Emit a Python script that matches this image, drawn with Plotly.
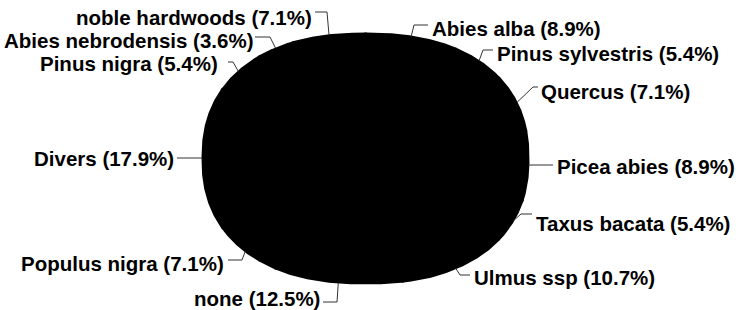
import numpy as np
import plotly.graph_objects as go

# ---- data ----
labels = ["Abies alba", "Pinus sylvestris", "Quercus", "Picea abies", "Taxus bacata",
          "Ulmus ssp", "none", "Populus nigra", "Divers", "Pinus nigra",
          "Abies nebrodensis", "noble hardwoods"]
percents = [8.9, 5.4, 7.1, 8.9, 5.4, 10.7, 12.5, 7.1, 17.9, 5.4, 3.6, 7.1]

# ---- layout / style (page pixels) ----
W, H = 736, 310
CX, CY, RX, RY, NEXP = 365.5, 158.5, 163.0, 125.0, 2.3

# per label: side, elbow point, line end x, text anchor x, text centre y
label_layout = [
    ("right", (414, 25), 428, 430, 28),
    ("right", (483, 50), 493, 495, 53),
    ("right", (533, 87), 538, 539, 91),
    ("right", (531, 165), 553, 555, 166),
    ("right", (521, 214), 532, 534, 223),
    ("right", (460, 275), 470, 472, 277),
    ("left", (337, 302), 323, 322, 298),
    ("left", (242, 260), 228, 226, 263),
    ("left", (201, 158), 177, 176, 158),
    ("left", (233, 62), 228, 220, 63),
    ("left", (270, 37), 255, 255, 40),
    ("left", (327, 12), 315, 314, 17),
]


def edge(theta):
    s, c = np.sin(theta), np.cos(theta)
    r = (np.abs(s) ** NEXP + np.abs(c) ** NEXP) ** (-1.0 / NEXP)
    return CX + RX * r * s, CY - RY * r * c


total = float(sum(percents))
cum = np.concatenate([[0.0], np.cumsum(percents)]) / total * 2 * np.pi

fig = go.Figure()

# slices
for i, lab in enumerate(labels):
    t = np.linspace(cum[i], cum[i + 1], 90)
    ex, ey = edge(t)
    xs = np.concatenate([[CX], ex, [CX]])
    ys = np.concatenate([[CY], ey, [CY]])
    fig.add_trace(go.Scatter(x=xs, y=ys, mode="lines", fill="toself",
                             fillcolor="black", line=dict(color="black", width=2),
                             hoverinfo="skip", showlegend=False, name=lab))

# leader lines + labels
font = dict(family="Arial, Liberation Sans, sans-serif", size=20.5, color="black", weight="bold")
for i, lab in enumerate(labels):
    side, (elx, ely), endx, tx, ty = label_layout[i]
    mid = 0.5 * (cum[i] + cum[i + 1])
    px, py = edge(mid)
    fig.add_trace(go.Scatter(x=[px, elx, endx], y=[py, ely, ely], mode="lines",
                             line=dict(color="#333333", width=1),
                             hoverinfo="skip", showlegend=False))
    fig.add_annotation(x=tx, y=ty, xref="x", yref="y", showarrow=False,
                       text=f"{lab} ({percents[i]:.1f}%)",
                       xanchor="left" if side == "right" else "right",
                       yanchor="middle", font=font)

fig.update_layout(
    width=W, height=H, margin=dict(l=0, r=0, t=0, b=0),
    paper_bgcolor="white", plot_bgcolor="white",
    xaxis=dict(range=[0, W], visible=False, fixedrange=True),
    yaxis=dict(range=[H, 0], visible=False, fixedrange=True),
    showlegend=False,
)

fig.write_html("out.html", config={"displayModeBar": False},
               post_script="document.body.style.margin='0';")
